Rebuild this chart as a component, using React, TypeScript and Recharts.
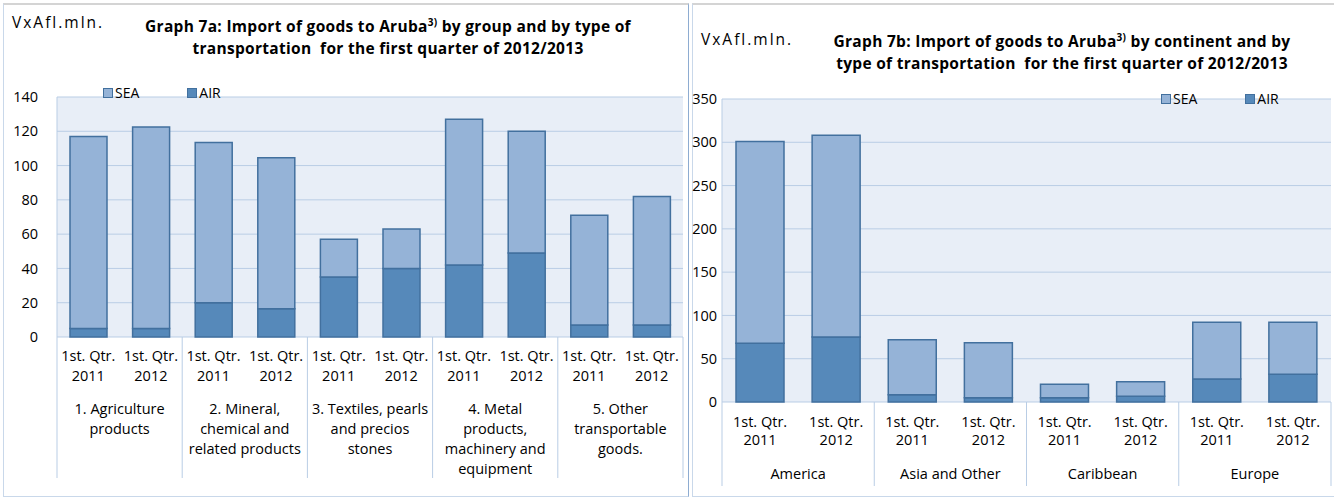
import { Bar, BarChart, CartesianGrid, Legend, XAxis, YAxis } from 'recharts';

// Import of goods to Aruba, first quarter 2011 vs 2012 (Afl. mln.)

const quarters = ['2011', '2012', '2011', '2012', '2011', '2012', '2011', '2012', '2011', '2012'];

// graph 7a: by group of goods
const groupLines = [
  ['1. Agriculture', 'products'],
  ['2. Mineral,', 'chemical and', 'related products'],
  ['3. Textiles, pearls', 'and precios', 'stones'],
  ['4. Metal', 'products,', 'machinery and', 'equipment'],
  ['5. Other', 'transportable', 'goods.'],
];
const groupAir = [5, 5, 20, 16.5, 35, 40, 42, 49, 7, 7];
const groupSea = [112, 117.5, 93.5, 88, 22, 23, 85, 71, 64, 75];
const groupTicks = [0, 20, 40, 60, 80, 100, 120, 140];

// graph 7b: by continent
const continents = ['America', 'Asia and Other', 'Caribbean', 'Europe'];
const contAir = [68, 75, 8.5, 5, 5, 6.5, 26.5, 32];
const contSea = [233, 233, 63.5, 63.5, 15.5, 17, 65.5, 60];
const contTicks = [0, 50, 100, 150, 200, 250, 300, 350];

const FONT = '"Open Sans", sans-serif';
const SEA = '#95b3d7';
const AIR = '#5689ba';
const EDGE = '#42709e';
const GRID = '#b9cde5';
const PLOT_BG = '#e8eef7';

const leftData = quarters.map((q, i) => ({
  key: `g${i}`,
  year: q,
  air: groupAir[i],
  sea: groupSea[i],
}));

const rightData = quarters.slice(0, 8).map((q, i) => ({
  key: `c${i}`,
  year: q,
  air: contAir[i],
  sea: contSea[i],
}));

// two-level category axis: quarter/year per bar, group name under each pair
function makeTick(
  band: number,
  labels: string[][],
  rows: { q: number; yr: number; g: number; gap: number; sep: number },
  last: number,
) {
  return (props: any) => {
    const { x, y, index } = props;
    const items: any[] = [];
    items.push(
      <text key="q" x={x} y={y + rows.q} textAnchor="middle" fontSize={14.5} fill="#000" fontFamily={FONT}>
        <tspan x={x}>1st. Qtr.</tspan>
        <tspan x={x} dy={rows.yr}>{quarters[index]}</tspan>
      </text>
    );
    if (index % 2 === 0) {
      const g = Math.floor(index / 2);
      const cx = x + band / 2;
      items.push(
        <text key="g" x={cx} y={y + rows.g} textAnchor="middle" fontSize={14.5} fill="#000" fontFamily={FONT}>
          {labels[g].map((l, k) => (
            <tspan key={k} x={cx} dy={k === 0 ? 0 : rows.gap}>{l}</tspan>
          ))}
        </text>
      );
      items.push(<line key="s" x1={x - band / 2} x2={x - band / 2} y1={y} y2={y + rows.sep} stroke={GRID} />);
    }
    if (index === last) {
      items.push(<line key="e" x1={x + band / 2} x2={x + band / 2} y1={y} y2={y + rows.sep} stroke={GRID} />);
    }
    return <g>{items}</g>;
  };
}

function LegendBox({ left }: { left: number }) {
  return (
    <div style={{ display: 'flex', alignItems: 'center', fontFamily: FONT, fontSize: 14, paddingLeft: left }}>
      <span style={{ width: 8, height: 8, background: SEA, border: `1px solid ${EDGE}`, marginRight: 2 }} />
      <span style={{ marginRight: 48 }}>SEA</span>
      <span style={{ width: 8, height: 8, background: AIR, border: `1px solid ${EDGE}`, marginRight: 2 }} />
      <span>AIR</span>
    </div>
  );
}

const titleStyle: React.CSSProperties = {
  position: 'absolute',
  fontFamily: FONT,
  fontWeight: 700,
  fontSize: 15.5,
  letterSpacing: 0.3,
  textAlign: 'center',
  lineHeight: '22px',
  whiteSpace: 'nowrap',
};

const unitStyle: React.CSSProperties = {
  position: 'absolute',
  fontFamily: FONT,
  fontSize: 15.5,
  letterSpacing: 2,
  whiteSpace: 'nowrap',
};

export default function App() {
  const leftBand = 626 / 10;
  const rightBand = 609 / 8;
  return (
    <div style={{ position: 'absolute', left: 0, top: 0, width: 1334, height: 499, background: '#fff', overflow: 'hidden' }}>
      {/* panel frames */}
      <div style={{ position: 'absolute', left: 3, top: 3, width: 684, height: 491, borderTop: '2px solid #d4d4d4', borderLeft: '1px solid #c9d8ea', borderRight: '1px solid #8eacd1', borderBottom: '1px solid #c9d8ea' }} />
      <div style={{ position: 'absolute', left: 692, top: 3, width: 641, height: 491, borderTop: '2px solid #d4d4d4', borderLeft: '1px solid #c9d8ea', borderRight: '1px solid #8eacd1', borderBottom: '1px solid #c9d8ea' }} />

      <div style={{ ...unitStyle, left: 12, top: 11 }}>VxAfl.mln.</div>
      <div style={{ ...titleStyle, left: 138, top: 11, width: 500 }}>
        Graph 7a: Import of goods to Aruba<sup style={{ fontSize: 10 }}>3)</sup> by group and by type of
        <br />
        transportation&nbsp; for the first quarter of 2012/2013
      </div>

      <div style={{ ...unitStyle, left: 701, top: 28 }}>VxAfl.mln.</div>
      <div style={{ ...titleStyle, left: 820, top: 26, width: 484 }}>
        Graph 7b: Import of goods to Aruba<sup style={{ fontSize: 10 }}>3)</sup> by continent and by
        <br />
        type of transportation&nbsp; for the first quarter of 2012/2013
      </div>

      <div style={{ position: 'absolute', left: 0, top: 0 }}>
        <BarChart width={690} height={499} data={leftData} margin={{ top: 78, right: 7, bottom: 0, left: 0 }}>
          <CartesianGrid vertical={false} stroke={GRID} fill={PLOT_BG} />
          <XAxis
            dataKey="key"
            height={162}
            axisLine={false}
            tickLine={false}
            tickSize={0}
            tickMargin={0}
            interval={0}
            tick={makeTick(leftBand, groupLines, { q: 24, yr: 20, g: 77, gap: 20, sep: 141 }, 9)}
          />
          <YAxis
            width={57}
            domain={[0, 140]}
            ticks={groupTicks}
            axisLine={{ stroke: GRID }}
            tickLine={false}
            tickSize={0}
            tickMargin={19}
            tick={{ fill: '#000', fontSize: 14.5, fontFamily: FONT }}
          />
          <Legend
            verticalAlign="top"
            align="left"
            wrapperStyle={{ top: 83, left: 0 }}
            content={() => <LegendBox left={103} />}
          />
          <Bar dataKey="air" stackId="a" fill={AIR} stroke={EDGE} strokeWidth={1.5} barSize={37} isAnimationActive={false} />
          <Bar dataKey="sea" stackId="a" fill={SEA} stroke={EDGE} strokeWidth={1.5} barSize={37} isAnimationActive={false} />
        </BarChart>
      </div>

      <div style={{ position: 'absolute', left: 690, top: 0 }}>
        <BarChart width={644} height={499} data={rightData} margin={{ top: 80, right: 3, bottom: 0, left: 0 }}>
          <CartesianGrid vertical={false} stroke={GRID} fill={PLOT_BG} />
          <XAxis
            dataKey="key"
            height={97}
            axisLine={false}
            tickLine={false}
            tickSize={0}
            tickMargin={0}
            interval={0}
            tick={makeTick(rightBand, continents.map((c) => [c]), { q: 25, yr: 18, g: 77, gap: 20, sep: 84 }, 7)}
          />
          <YAxis
            width={32}
            domain={[0, 350]}
            ticks={contTicks}
            axisLine={{ stroke: GRID }}
            tickLine={false}
            tickSize={0}
            tickMargin={5}
            tick={{ fill: '#000', fontSize: 14.5, fontFamily: FONT }}
          />
          <Legend
            verticalAlign="top"
            align="left"
            wrapperStyle={{ top: 89, left: 0 }}
            content={() => <LegendBox left={471} />}
          />
          <Bar dataKey="air" stackId="a" fill={AIR} stroke={EDGE} strokeWidth={1.5} barSize={48} isAnimationActive={false} />
          <Bar dataKey="sea" stackId="a" fill={SEA} stroke={EDGE} strokeWidth={1.5} barSize={48} isAnimationActive={false} />
        </BarChart>
      </div>
    </div>
  );
}
